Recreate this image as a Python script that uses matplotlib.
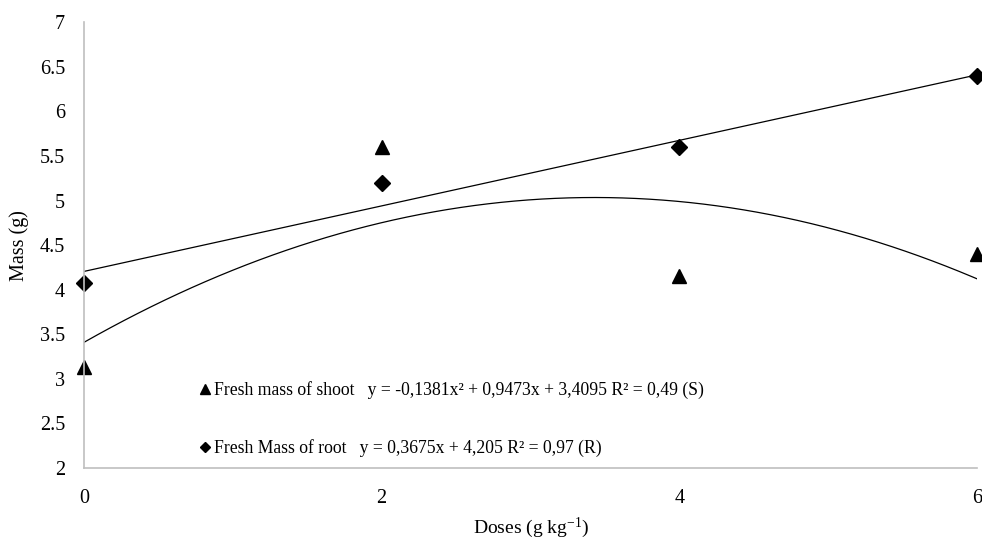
import matplotlib.pyplot as plt
from matplotlib.lines import Line2D
import numpy as np

plt.rcParams['font.family'] = ['Liberation Serif', 'DejaVu Serif']
plt.rcParams['mathtext.fontset'] = 'custom'
plt.rcParams['mathtext.rm'] = 'Liberation Serif'
plt.rcParams['mathtext.default'] = 'regular'

doses = [0, 2, 4, 6]
shoot = [3.13, 5.6, 4.15, 4.4]
root = [4.08, 5.2, 5.6, 6.4]

# trendline coefficients as printed on the chart
shoot_fit = [-0.1381, 0.9473, 3.4095]
root_fit = [0.3675, 4.205]

shoot_label = 'Fresh mass of shoot   y = -0,1381x² + 0,9473x + 3,4095 R² = 0,49 (S)'
root_label = 'Fresh Mass of root   y = 0,3675x + 4,205 R² = 0,97 (R)'

fig = plt.figure(figsize=(9.82, 5.42), dpi=100)
ax = fig.add_axes([0.0855, 0.1365, 0.9095, 0.8225])

xs = np.linspace(0, 6, 200)
ax.plot(xs, np.polyval(shoot_fit, xs), color='black', lw=0.9)
ax.plot(xs, np.polyval(root_fit, xs), color='black', lw=0.9)
ax.plot(doses, shoot, '^', color='black', ms=10, clip_on=False)
ax.plot(doses, root, 'D', color='black', ms=8, clip_on=False)

ax.set_xlim(0, 6)
ax.set_ylim(2, 7)
ax.set_xticks([0, 2, 4, 6])
ax.set_yticks(np.arange(2, 7.01, 0.5))
ax.set_yticklabels(['2', '2.5', '3', '3.5', '4', '4.5', '5', '5.5', '6', '6.5', '7'])
ax.tick_params(length=0, labelsize=14.5)
ax.tick_params(axis='x', pad=15)
ax.tick_params(axis='y', pad=13.5)
for s in ['top', 'right']:
    ax.spines[s].set_visible(False)
for s in ['left', 'bottom']:
    ax.spines[s].set_color('#bfbfbf')
    ax.spines[s].set_linewidth(1.2)

ax.set_xlabel('Doses (g kg$^{-1}$)', fontsize=14)
ax.set_ylabel('Mass (g)', fontsize=14.5)
ax.xaxis.set_label_coords(0.5, -0.106)
ax.yaxis.set_label_coords(-0.0616, 0.5)

handles = [
    Line2D([], [], marker='^', color='black', ls='none', ms=7),
    Line2D([], [], marker='D', color='black', ls='none', ms=5.5),
]
ax.legend(handles, [shoot_label, root_label], loc='upper left',
          bbox_to_anchor=(0.1222, 0.211), frameon=False, fontsize=12.7,
          handlelength=0.6, handletextpad=0.2, labelspacing=2.3,
          borderaxespad=0)

fig.savefig('out.png', dpi=100)
